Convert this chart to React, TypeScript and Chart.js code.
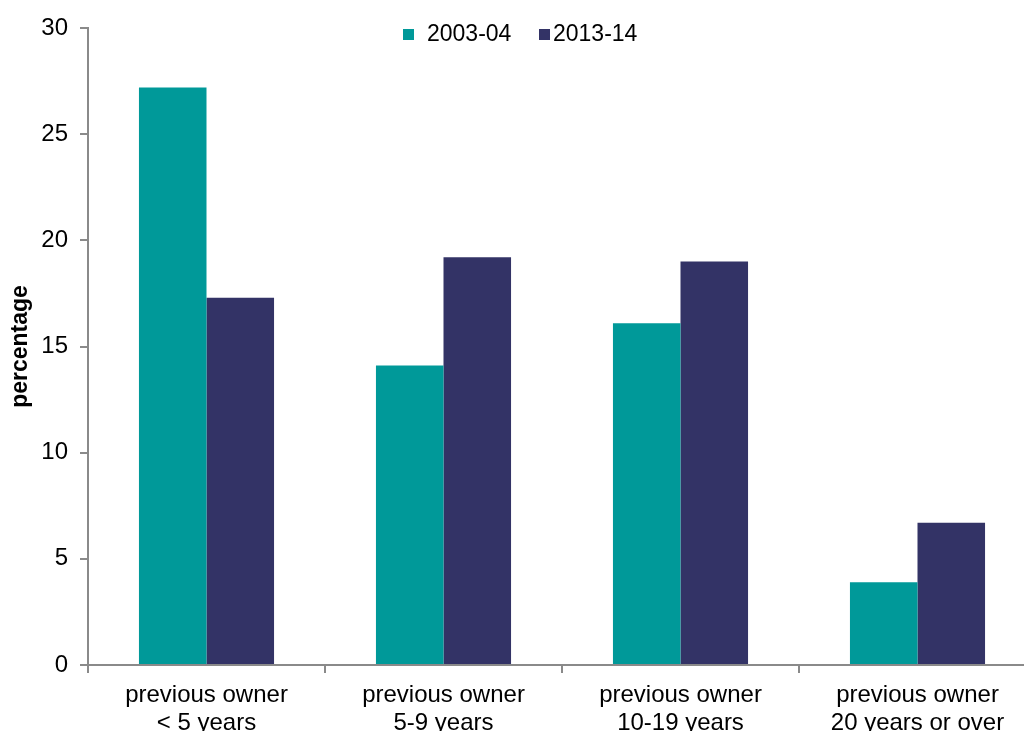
import React, { useEffect, useRef } from 'react';
import { Chart, registerables } from 'chart.js';

Chart.register(...registerables);

const categories: string[][] = [
  ['previous owner', '< 5 years'],
  ['previous owner', '5-9 years'],
  ['previous owner', '10-19 years'],
  ['previous owner', '20 years or over'],
];
const seriesLabels = ['2003-04', '2013-14'];
const values2003 = [27.2, 14.1, 16.1, 3.9];
const values2013 = [17.3, 19.2, 19.0, 6.7];
const yMin = 0;
const yMax = 30;
const yStep = 5;
const yTitle = 'percentage';

const TEAL = '#009999';
const NAVY = '#333366';
const AXIS = '#8a8a8a';
const FONT = "'Liberation Sans', Arial, sans-serif";

const legendPlugin = {
  id: 'customLegend',
  afterDraw(chart: any) {
    const ctx = chart.ctx;
    const cx = chart.width / 2;
    const y = 35;
    const ds = chart.data.datasets;
    ctx.save();
    ctx.font = `23px ${FONT}`;
    ctx.textBaseline = 'middle';
    ctx.textAlign = 'left';
    ctx.fillStyle = ds[0].backgroundColor;
    ctx.fillRect(cx - 117, y - 6, 11, 11);
    ctx.fillStyle = '#000';
    ctx.fillText(ds[0].label, cx - 93, y);
    ctx.fillStyle = ds[1].backgroundColor;
    ctx.fillRect(cx + 19, y - 6, 11, 11);
    ctx.fillStyle = '#000';
    ctx.fillText(ds[1].label, cx + 33, y);
    ctx.restore();
  },
};

export default function App() {
  const canvasRef = useRef<HTMLCanvasElement | null>(null);

  useEffect(() => {
    if (!canvasRef.current) return;
    const chart = new Chart(canvasRef.current, {
      type: 'bar',
      data: {
        labels: categories,
        datasets: [
          {
            label: seriesLabels[0],
            data: values2003,
            backgroundColor: TEAL,
            borderWidth: 0,
            categoryPercentage: 0.57,
            barPercentage: 1.0,
          },
          {
            label: seriesLabels[1],
            data: values2013,
            backgroundColor: NAVY,
            borderWidth: 0,
            categoryPercentage: 0.57,
            barPercentage: 1.0,
          },
        ],
      },
      options: {
        animation: false,
        responsive: true,
        maintainAspectRatio: false,
        layout: { padding: { top: 28, right: 4, bottom: 0, left: 0 } },
        plugins: {
          legend: { display: false },
          tooltip: { enabled: false },
        },
        scales: {
          x: {
            offset: true,
            grid: {
              offset: true,
              drawOnChartArea: false,
              drawTicks: true,
              tickLength: 8,
              color: AXIS,
              lineWidth: 2,
            },
            border: { display: true, color: AXIS, width: 2 },
            ticks: {
              color: '#000',
              font: { family: FONT, size: 24, lineHeight: 1.167 },
              padding: 8,
              maxRotation: 0,
              autoSkip: false,
            },
            afterFit(scale: any) {
              scale.height = 95;
            },
          },
          y: {
            min: yMin,
            max: yMax,
            grid: {
              drawOnChartArea: false,
              drawTicks: true,
              tickLength: 8,
              color: AXIS,
              lineWidth: 2,
            },
            border: { display: true, color: AXIS, width: 2 },
            ticks: {
              stepSize: yStep,
              color: '#000',
              font: { family: FONT, size: 24 },
              padding: 12,
            },
            title: {
              display: true,
              text: yTitle,
              color: '#000',
              font: { family: FONT, size: 23, weight: 'bold' },
              padding: { top: 7, bottom: 0 },
            },
            afterFit(scale: any) {
              scale.width = 88;
            },
          },
        },
      },
      plugins: [legendPlugin],
    });
    return () => chart.destroy();
  }, []);

  return (
    <div
      style={{
        position: 'absolute',
        left: 0,
        top: 0,
        width: 1024,
        height: 731,
        overflow: 'hidden',
        background: '#fff',
      }}
    >
      <div style={{ position: 'relative', width: 1040, height: 760 }}>
        <canvas ref={canvasRef} />
      </div>
    </div>
  );
}
